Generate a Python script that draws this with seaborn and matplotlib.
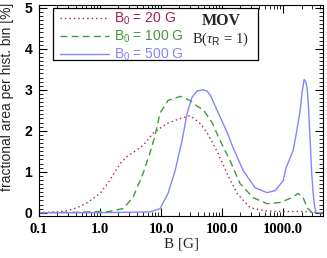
import numpy as np
import pandas as pd
import matplotlib
matplotlib.use("Agg")
import matplotlib.pyplot as plt
import seaborn as sns
from matplotlib.patches import Rectangle
from matplotlib.ticker import FixedLocator, MultipleLocator, NullFormatter

# ---- data ----
b20_x = [0.1, 0.2, 0.29, 0.42, 0.61, 1.0, 1.46, 2.13, 2.77, 3.47, 5.07, 7.4, 12.5, 20.5,
         29.9, 43.6, 56.8, 82.8, 121, 176, 288, 547, 1000, 2128, 3102, 3475, 4500]
b20_y = [0.0, 0.02, 0.05, 0.12, 0.24, 0.47, 0.8, 1.2, 1.37, 1.47, 1.64, 1.94, 2.18, 2.30,
         2.37, 2.18, 1.95, 1.5, 0.95, 0.47, 0.12, 0.04, 0.03, 0.03, 0.02, 0.0, 0.0]

b100_x = [0.1, 0.42, 1.0, 1.3, 2.38, 3.47, 5.07, 6.6, 8.0, 9.6, 13.0, 20.5, 29.9, 38.9,
          48.8, 68.5, 92.7, 135, 197, 322, 547, 893, 1406, 1762, 2128, 2474, 2987, 3475, 4500]
b100_y = [0.0, 0.01, 0.03, 0.02, 0.1, 0.37, 0.96, 1.47, 1.89, 2.43, 2.74, 2.84, 2.74, 2.6,
          2.52, 2.2, 1.76, 1.27, 0.71, 0.37, 0.22, 0.25, 0.37, 0.47, 0.37, 0.12, 0.0, 0.0, 0.0]

b500_x = [0.1, 1.0, 6.6, 9.6, 13.0, 17.0, 22.1, 26.7, 32.2, 38.9, 48.0, 56.8, 65.0, 82.8,
          121, 151, 221, 347, 547, 740, 1000, 1120, 1460, 1660, 1900, 2050, 2210, 2350,
          2474, 2620, 2773, 2930, 3102, 3290, 3475, 4500]
b500_y = [0.0, 0.0, 0.02, 0.1, 0.47, 1.03, 1.76, 2.43, 2.82, 2.97, 3.0, 2.97, 2.85, 2.5,
          1.96, 1.59, 1.03, 0.61, 0.49, 0.54, 0.78, 1.1, 1.52, 1.97, 2.5, 2.95, 3.25, 3.2,
          3.04, 2.5, 1.76, 1.0, 0.47, 0.15, 0.0, 0.0]

series_labels = [r"B$_0$ = 20 G", r"B$_0$ = 100 G", r"B$_0$ = 500 G"]
x_ticks = [0.1, 1.0, 10.0, 100.0, 1000.0]
x_tick_labels = ["0.1", "1.0", "10.0", "100.0", "1000.0"]
y_ticks = [0, 1, 2, 3, 4, 5]

# ---- style ----
sns.set_style("ticks")
plt.rcParams["font.family"] = ["Liberation Sans", "DejaVu Sans"]
plt.rcParams["mathtext.fontset"] = "custom"
plt.rcParams["mathtext.rm"] = "Liberation Sans"
plt.rcParams["mathtext.it"] = "Liberation Serif:italic"
plt.rcParams["mathtext.bf"] = "Liberation Sans:bold"

SERIF = ["Liberation Serif", "DejaVu Serif"]
colors = ["#a8204e", "#3c9c3c", "#8585ff"]

fig = plt.figure(figsize=(3.27, 2.58), dpi=100)
ax = fig.add_axes([39 / 327, 1 - 216 / 258, 284 / 327, 211 / 258])

frames = []
for xs, ys, lab in zip([b20_x, b100_x, b500_x], [b20_y, b100_y, b500_y], series_labels):
    frames.append(pd.DataFrame({"B": xs, "frac": ys, "series": lab}))
df = pd.concat(frames, ignore_index=True)

styles = {series_labels[0]: (0, (1, 2.2)), series_labels[1]: (0, (5, 3)), series_labels[2]: "-"}
for lab, col in zip(series_labels, colors):
    sub = df[df["series"] == lab]
    sns.lineplot(data=sub, x="B", y="frac", ax=ax, color=col, lw=1.0,
                 linestyle=styles[lab], label=lab, estimator=None, sort=False)

ax.set_xscale("log")
ax.set_xlim(0.1, 4500)
ax.set_ylim(-0.08, 5.07)

ax.xaxis.set_major_locator(FixedLocator(x_ticks))
ax.set_xticklabels(x_tick_labels, fontfamily=SERIF, fontweight="bold", fontsize=10.5)
ax.xaxis.set_minor_formatter(NullFormatter())
ax.set_yticks(y_ticks)
ax.set_yticklabels([str(v) for v in y_ticks], fontweight="bold", fontsize=10)
ax.yaxis.set_minor_locator(MultipleLocator(0.1))

ax.tick_params(which="both", direction="in", top=True, right=True, colors="black")
ax.tick_params(axis="x", which="major", pad=5)
ax.tick_params(axis="y", which="major", pad=5)
ax.tick_params(which="major", length=6, width=0.8)
ax.tick_params(which="minor", length=3, width=0.6)
for s in ax.spines.values():
    s.set_linewidth(0.8)
    s.set_color("black")

ax.set_xlabel("B [G]", fontsize=11, fontfamily=SERIF, labelpad=1)
ax.set_ylabel("fractional area per hist. bin [%]", fontsize=10)
ax.yaxis.set_label_coords(-0.088, 0.565)

# legend box
rect = Rectangle((0.049, 0.739), 0.722, 0.247, transform=ax.transAxes,
                 facecolor="white", edgecolor="black", lw=0.9, zorder=5)
ax.add_patch(rect)
leg = ax.legend(loc="upper left", bbox_to_anchor=(0.06, 0.99), frameon=False,
                handlelength=3.5, handletextpad=0.4, labelspacing=0.12,
                fontsize=10, borderaxespad=0.0, borderpad=0.3)
leg.set_zorder(6)
for t, c in zip(leg.get_texts(), colors):
    t.set_color(c)

ax.text(0.64, 0.925, "MOV", transform=ax.transAxes, fontsize=11.5, fontweight="bold",
        fontfamily=SERIF, ha="center", va="center", zorder=7)
ax.text(0.64, 0.835, r"B($\tau_{\rm R}$ = 1)", transform=ax.transAxes, fontsize=10.5,
        fontfamily=SERIF, ha="center", va="center", zorder=7)

fig.savefig("out.png", dpi=100)
